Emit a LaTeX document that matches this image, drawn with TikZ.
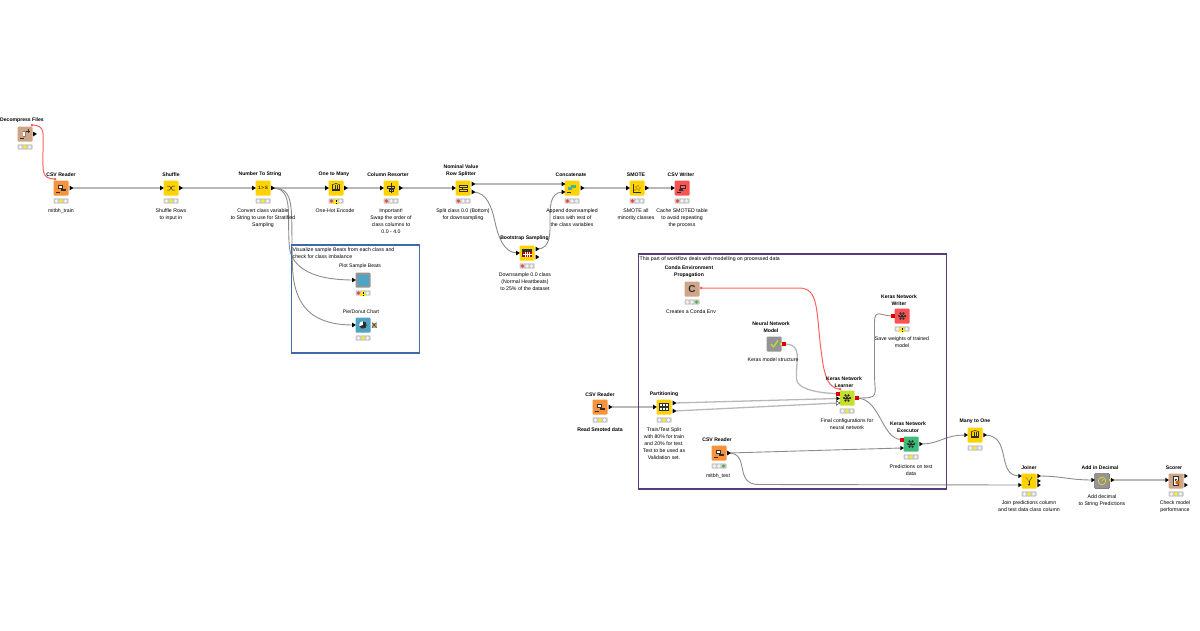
\documentclass[tikz,border=0pt]{standalone}
\usepackage{fontspec}
\setmainfont{Liberation Sans}
\usetikzlibrary{shapes.geometric,backgrounds}
\definecolor{cyellow}{HTML}{FFD200}
\definecolor{corange}{HTML}{F8933B}
\definecolor{ctan}{HTML}{CFA588}
\definecolor{cred}{HTML}{FB5353}
\definecolor{cblue}{HTML}{4FA3C4}
\definecolor{cgrey}{HTML}{949494}
\definecolor{clime}{HTML}{C4E02C}
\definecolor{cgreen}{HTML}{3DBB78}
\definecolor{linkc}{HTML}{B8B8B8}
\definecolor{flowc}{HTML}{FF5F5F}
\definecolor{icon}{HTML}{2E2E2E}
\definecolor{annoblue}{HTML}{3E6BA8}
\definecolor{annopurple}{HTML}{5C3A78}
\tikzset{
  kbox/.style={rectangle,rounded corners=1pt,minimum size=15pt,inner sep=0,draw=none},
  stbar/.style={rectangle,rounded corners=.8pt,fill=black!22,minimum width=15pt,minimum height=5.4pt,inner sep=0},
  pin/.style={isosceles triangle,isosceles triangle apex angle=65,fill=black,inner sep=0,minimum height=3.6pt,minimum width=4pt},
  pinw/.style={isosceles triangle,isosceles triangle apex angle=65,fill=white,draw=black,line width=.35pt,inner sep=0,minimum height=3.6pt,minimum width=4pt},
  pnn/.style={rectangle,fill=red!85!black,inner sep=0,minimum size=4pt},
  pvar/.style={circle,fill=flowc,inner sep=0,minimum size=3pt},
  plab/.style={anchor=south,inner sep=0,align=center,font=\fontsize{5.1}{7}\selectfont\bfseries},
  pnote/.style={anchor=north,inner sep=0,yshift=-1.5pt,align=center,font=\fontsize{5.2}{7}\selectfont,text=black},
  link/.style={draw=linkc,line width=1.3pt},
  linkd/.style={draw=black!45,line width=.9pt},
  varlink/.style={draw=flowc,line width=1pt},
  anno/.style={draw=#1,line width=1.9pt},
  annot/.style={anchor=north west,inner sep=0,yshift=-1.8pt,align=left,font=\fontsize{5.2}{7}\selectfont,text=black},
  ico/.style={fill=icon,draw=none},
  icol/.style={draw=icon,line width=.5pt}
}
% id x y colour icon status-colours
\newcommand{\knode}[8]{%
  \node[kbox,fill=#4] (#1) at (#2,#3) {};
  \begin{scope}[shift={(#2,#3)}]#5\end{scope}
  \node[stbar] (#1-st) at (#2,#3+13) {};
  \fill[#6] (#2-4.6,#3+13) circle (1.85pt);
  \fill[#7] (#2,#3+13) circle (1.85pt);
  \fill[#8] (#2+4.6,#3+13) circle (1.85pt);
}
\newcommand{\warn}[2]{\fill[yellow!95!orange] (#1-3.4,#2+3) -- (#1,#2-3) -- (#1+3.4,#2+3) -- cycle;
  \fill[black] (#1-.35,#2-1) rectangle (#1+.35,#2+1.2); \fill[black] (#1-.35,#2+1.6) rectangle (#1+.35,#2+2.4);}
\newcommand{\Ireader}{\fill[ico] (-3.5,-3.5) rectangle (2,1); \fill[white] (-2.5,-2.5) rectangle (1,0); \fill[ico] (0,.5) rectangle (5,3); \fill[ico] (-5.5,4) rectangle (-1,5);}
\newcommand{\Ishuffle}{\draw[icol] (-4,-2) -- (-1.5,-2) -- (1.5,2) -- (4,2); \draw[icol] (-4,2) -- (-1.5,2) -- (1.5,-2) -- (4,-2);}
\newcommand{\Inum}{\node[inner sep=0,font=\fontsize{4.6}{5}\selectfont\bfseries,text=icon] at (0,0) {1\,>\,S};}
\newcommand{\Imany}{\foreach \a in {-3.5,-1.2,1.2,3.5}{\draw[icol] (\a,-3) -- (\a,1);} \draw[icol] (-4,-3.2) -- (0,-4.5) -- (4,-3.2); \fill[ico] (-4,1) rectangle (4,3.2);}
\newcommand{\Iresort}{\draw[icol,line width=.7pt] (0,-5) -- (0,5); \draw[icol] (-3.5,-2) rectangle (3.5,0); \draw[icol] (-2,1) rectangle (2,3);}
\newcommand{\Isplit}{\draw[icol,line width=.7pt] (-4,-3) rectangle (4,-1); \draw[icol,line width=.7pt] (-4,1) rectangle (4,3); \draw[icol] (-1,-1) -- (-1,1);}
\newcommand{\Iboot}{\fill[ico] (-5,-4) rectangle (5,4); \fill[red!75!black] (-4.5,-1.5) rectangle (4.5,3.5); \foreach \a in {-2,0,2}{\draw[white,line width=.35pt] (\a,-1.5) -- (\a,3.5);} \draw[white,line width=.35pt] (-4.5,1) -- (4.5,1);}
\newcommand{\Iconcat}{\fill[cblue] (-4,-1) rectangle (0,2); \fill[cgreen] (-1,-3) rectangle (4,0); \fill[ico] (-5.5,4) rectangle (-1,5);}
\newcommand{\Ismote}{\draw[icol,line width=.6pt] (-4,-4) -- (-4,4) -- (4,4); \foreach \p in {(-2,2),(-1,-1),(0,1),(1,-2),(2,2),(3,0)}{\fill[icon] \p circle (.7pt);}}
\newcommand{\Iwriter}{\fill[ico] (-2,-3.5) rectangle (3.5,1); \fill[red!60] (-1,-2.5) rectangle (2.5,0); \fill[ico] (-3.5,.5) rectangle (1,3); \fill[ico] (-5.5,4) rectangle (-1,5);}
\newcommand{\Idecomp}{\fill[black!50] (-2.5,-3) rectangle (1,3); \fill[white] (-1.6,-2) rectangle (.1,2); \draw[icol] (3,-5) -- (3,-1); \draw[icol] (1,-3) -- (5,-3); \fill[ico] (-5.5,4) rectangle (-1,5);}
\newcommand{\Ineural}{\foreach \a in {0,60,...,300}{\fill[icon] (\a:3) circle (1.25pt); \draw[icol,line width=.45pt] (0,0) -- (\a:3);} \fill[icon] (0,0) circle (1.3pt);}
\newcommand{\Ipart}{\fill[ico] (-5,-4) rectangle (5,4); \foreach \a in {-3.2,0,3.2}{\fill[white] (\a-1,-2.8) rectangle (\a+1,-.8); \fill[white] (\a-1,.6) rectangle (\a+1,2.6);}}
\newcommand{\Ijoin}{\draw[icol,line width=.7pt,draw=orange] (-3,-4) -- (0,1); \draw[icol,line width=.7pt,draw=green!60!black] (3,-4) -- (0,1); \draw[icol,line width=.8pt] (0,0) -- (0,3.5); \fill[ico] (-1.2,3) -- (1.2,3) -- (0,5) -- cycle;}
\newcommand{\Iscore}{\fill[white,draw=icon,line width=.4pt] (-3,-4.5) rectangle (2.5,4.5); \fill[ico] (-1.5,-2.5) rectangle (1,-1.8); \fill[ico] (-1.5,-.8) rectangle (0,0); \fill[orange!80!black] (1.5,1.5) circle (2.2pt);}
\begin{document}
\begin{tikzpicture}[x=1pt,y=-1pt]
\useasboundingbox (0,0) rectangle (1200,630);
% annotation boxes
\draw[anno=annoblue] (291.5,245) rectangle (419.5,353);
\draw[anno=annopurple] (638.5,254) rectangle (946.5,489);
\node[annot] (t1) at (292.5,246) {Visualize sample Beats from each class and\\check for class imbalance};
\node[annot] (t2) at (639.5,255) {This part of workflow deals with modelling on processed data};
% nodes
\knode{decomp}{25}{134}{ctan}{\Idecomp}{black!5}{yellow}{black!5}
\knode{read}{61}{188}{corange}{\Ireader}{black!5}{yellow}{black!5}
\knode{shuf}{171}{188}{cyellow}{\Ishuffle}{black!5}{yellow}{black!5}
\knode{nts}{263}{188}{cyellow}{\Inum}{black!5}{yellow}{black!5}
\knode{otm}{336}{188}{cyellow}{\Imany}{red!75}{black!5}{black!5}
\knode{resort}{391}{188}{cyellow}{\Iresort}{red!75}{black!5}{black!5}
\knode{split}{463}{188}{cyellow}{\Isplit}{red!75}{black!5}{black!5}
\knode{conc}{572}{188}{cyellow}{\Iconcat}{red!75}{black!5}{black!5}
\knode{smote}{637}{188}{cyellow}{\Ismote}{red!75}{black!5}{black!5}
\knode{writer}{682}{188}{cred}{\Iwriter}{red!75}{black!5}{black!5}
\knode{boot}{527}{253}{cyellow}{\Iboot}{red!75}{black!5}{black!5}
\knode{plot}{363}{280}{cgrey}{\fill[cblue] (-5.5,-5.5) rectangle (5.5,5.5);}{red!75}{black!5}{black!5}
\knode{pie}{363}{325}{cblue}{\fill[white] (0,0) circle (3.8pt); \fill[icon] (0,0) -- (0,-3.8) arc (90:-160:3.8pt) -- cycle;}{black!5}{yellow}{black!5}
\knode{conda}{692}{289}{ctan}{\node[inner sep=0,font=\fontsize{10}{10}\selectfont\bfseries,text=icon] at (0,0) {C};}{black!5}{black!5}{green!60!black!70}
\knode{kwrite}{902}{316}{cred}{\Ineural}{black!5}{black!5}{black!5}
\node[kbox,fill=cgrey] (model) at (774,344) {};
\draw[draw=clime,line width=1.2pt] (771,344) -- (773.5,347) -- (778,340.5);
\knode{learn}{847}{398}{clime}{\Ineural}{black!5}{yellow}{black!5}
\knode{exec}{911}{444}{cgreen}{\Ineural}{black!5}{yellow}{black!5}
\knode{read2}{600}{407}{corange}{\Ireader}{black!5}{yellow}{black!5}
\knode{part}{664}{407}{cyellow}{\Ipart}{black!5}{yellow}{black!5}
\knode{read3}{719}{453}{corange}{\Ireader}{black!5}{black!5}{green!60!black!70}
\knode{mto}{975}{435}{cyellow}{\Imany}{black!5}{yellow}{black!5}
\knode{join}{1029}{481}{cyellow}{\Ijoin}{black!5}{yellow}{black!5}
\node[kbox,fill=cgrey,draw=black!60,line width=.5pt] (addd) at (1102,481) {};
\draw[draw=yellow!85!orange,line width=.6pt] (1102,481) circle (3.8pt);
\draw[draw=yellow!85!orange,line width=.5pt] (1102,481) -- (1103.5,479);
\knode{score}{1176}{481}{ctan}{\Iscore}{black!5}{yellow}{black!5}
% warnings and error mark
\warn{336}{201}
\warn{363}{293}
\warn{902}{329}
\fill[green!45!black!45] (372,322.5) rectangle (376.5,327.5);
\draw[draw=red!70!black,line width=.45pt] (372,322.5) -- (376.5,327.5) (372,327.5) -- (376.5,322.5);
% ports
\node[pvar] (decomp-v) at (32,125) {};
\node[pin] (decomp-o) at (34.5,134) {};
\node[pvar] (read-v) at (55,179) {};
\node[pin] (read-o) at (71,188) {};
\node[pin] (shuf-i) at (161.5,188) {};
\node[pin] (shuf-o) at (180.5,188) {};
\node[pin] (nts-i) at (253.5,188) {};
\node[pin] (nts-o) at (272.5,188) {};
\node[pin] (otm-i) at (326.5,188) {};
\node[pin] (otm-o) at (345.5,188) {};
\node[pin] (resort-i) at (381.5,188) {};
\node[pin] (resort-o) at (400.5,188) {};
\node[pin] (split-i) at (453.5,188) {};
\node[pin] (split-a) at (473,184) {};
\node[pin] (split-b) at (473,192) {};
\node[pin] (conc-a) at (563,184) {};
\node[pin] (conc-b) at (563,192) {};
\node[pin] (conc-o) at (582,188) {};
\node[pin] (smote-i) at (627.5,188) {};
\node[pin] (smote-o) at (646.5,188) {};
\node[pin] (writer-i) at (672.5,188) {};
\node[pin] (boot-i) at (517.5,253) {};
\node[pin] (boot-a) at (537,249) {};
\node[pin] (boot-b) at (537,257) {};
\node[pin] (plot-i) at (353.5,280) {};
\node[pin] (pie-i) at (353.5,325) {};
\node[pvar] (conda-v) at (701,288) {};
\node[pnn] (kwrite-i) at (892.5,316) {};
\node[pnn] (model-o) at (783.5,344) {};
\node[pvar,fill=yellow,minimum size=2.5pt] (model-y) at (781,344) {};
\node[pvar] (learn-v) at (840,389) {};
\node[pnn] (learn-m) at (837.5,393.5) {};
\node[pin] (learn-a) at (837.5,398.5) {};
\node[pinw] (learn-b) at (837.5,403) {};
\node[pnn] (learn-o) at (856.5,398) {};
\node[pnn] (exec-m) at (901.5,439.5) {};
\node[pin] (exec-i) at (901.5,448) {};
\node[pin] (exec-o) at (920.5,444) {};
\node[pin] (read2-o) at (610,407) {};
\node[pin] (part-i) at (654.5,407) {};
\node[pin] (part-a) at (674,403) {};
\node[pin] (part-b) at (674,411) {};
\node[pin] (read3-o) at (728.5,453) {};
\node[pin] (mto-i) at (965.5,435) {};
\node[pin] (mto-o) at (984.5,435) {};
\node[pin] (join-a) at (1019.5,476) {};
\node[pin] (join-b) at (1019.5,485) {};
\node[pin] (join-c) at (1038.5,476) {};
\node[pin] (join-d) at (1038.5,481) {};
\node[pin] (join-e) at (1038.5,485) {};
\node[pin] (addd-i) at (1092.5,480) {};
\node[pvar,fill=yellow!90!orange,minimum size=2.6pt] (addd-o) at (1110,480) {};
\node[pin] (addd-p) at (1112,480) {};
\node[pin] (score-i) at (1166.5,480) {};
\node[pin] (score-a) at (1185.5,476) {};
\node[pin] (score-b) at (1185.5,485) {};
% connectors
\begin{scope}[on background layer]
\draw[varlink] (decomp-v.center) .. controls +(14,0) and +(0,-18) .. ++(11,27) .. controls +(0,18) and +(-14,0) .. (read-v.center);
\draw[link] (read-o.center) -- (shuf-i.center);
\draw[link] (shuf-o.center) -- (nts-i.center);
\draw[link] (nts-o.center) -- (otm-i.center);
\draw[link] (otm-o.center) -- (resort-i.center);
\draw[link] (resort-o.center) -- (split-i.center);
\draw[linkd] (nts-o.center) .. controls +(22,0) and +(-3,-30) .. ++(17,60) .. controls +(2,14) and +(-50,0) .. (plot-i.center);
\draw[linkd] (nts-o.center) .. controls +(24,0) and +(-2,-60) .. ++(20,80) .. controls +(2,40) and +(-40,0) .. (pie-i.center);
\draw[link] (split-a.center) -- (conc-a.center);
\draw[linkd] (split-b.center) .. controls +(14,0) and +(-3,-14) .. ++(22,30) .. controls +(3,14) and +(-14,0) .. (boot-i.center);
\draw[linkd] (boot-a.center) .. controls +(14,0) and +(0,12) .. ++(13,-28) .. controls +(0,-12) and +(-14,0) .. (conc-b.center);
\draw[link] (conc-o.center) -- (smote-i.center);
\draw[link] (smote-o.center) -- (writer-i.center);
\draw[varlink] (conda-v.center) -- ++(98,0) .. controls +(20,0) and +(-5,-40) .. ++(22,62) .. controls +(2,12) and +(-16,0) .. (learn-v.center);
\draw[link] (model-o.center) .. controls +(20,0) and +(-1,-20) .. ++(13,35) .. controls +(0,10) and +(-18,0) .. (learn-m.center);
\draw[link] (read2-o.center) -- (part-i.center);
\draw[link] (part-a.center) -- (learn-a.center);
\draw[link] (part-b.center) -- (learn-b.center);
\draw[linkd] (learn-o.center) .. controls +(24,0) and +(0,24) .. ++(18,-25) -- ++(0,-50) .. controls +(0,-15) and +(-12,0) .. (kwrite-i.center);
\draw[linkd] (learn-o.center) .. controls +(24,0) and +(-20,0) .. (exec-m.center);
\draw[linkd] (read3-o.center) -- (exec-i.center);
\draw[linkd] (read3-o.center) .. controls +(22,0) and +(-25,0) .. ++(30,31.5) -- (join-b.center);
\draw[linkd] (exec-o.center) .. controls +(20,0) and +(-22,0) .. (mto-i.center);
\draw[linkd] (mto-o.center) .. controls +(28,0) and +(-24,0) .. (join-a.center);
\draw[linkd] (join-c.center) .. controls +(24,0) and +(-24,0) .. (addd-i.center);
\draw[link] (addd-o.center) -- (score-i.center);
\end{scope}
% labels
\node[plab] (l1) at (22,123) {Decompress Files};
\node[plab] (l2) at (61,177) {CSV Reader};
\node[pnote] (n2) at (61,207) {mitbh\_train};
\node[plab] (l3) at (171,177) {Shuffle};
\node[pnote] (n3) at (171,207) {Shuffle Rows\\to input in};
\node[plab] (l4) at (260,177) {Number To String};
\node[pnote] (n4) at (263,207) {Convert class variable\\to String to use for Stratified\\Sampling};
\node[plab] (l5) at (334,177) {One to Many};
\node[pnote] (n5) at (335,207) {One-Hot Encode};
\node[plab] (l6) at (388,177) {Column Resorter};
\node[pnote] (n6) at (391,207) {Important!\\Swap the order of\\class  columns to\\0.0 - 4.0};
\node[plab] (l7) at (461,177) {Nominal Value\\Row Splitter};
\node[pnote] (n7) at (463,207) {Split class 0.0 (Bottom)\\for downsampling};
\node[plab] (l8) at (571,177) {Concatenate};
\node[pnote] (n8) at (572,207) {Append downsampled\\class with rest of\\the class variables};
\node[plab] (l9) at (636,177) {SMOTE};
\node[pnote] (n9) at (636,207) {SMOTE all\\minority classes};
\node[plab] (l10) at (681,177) {CSV Writer};
\node[pnote] (n10) at (682,207) {Cache SMOTED table\\to avoid repeating\\the process};
\node[plab] (l11) at (524.5,241) {Bootstrap Sampling};
\node[pnote] (n11) at (525,271) {Downsample 0.0 class\\(Normal Heartbeats)\\to 25\% of the dataset};
\node[plab,font=\fontsize{5.1}{7}\selectfont] (l12) at (360,269) {Plot Sample Beats};
\node[plab,font=\fontsize{5.1}{7}\selectfont] (l13) at (361,314) {Pie/Donut Chart};
\node[plab] (l14) at (689,278) {Conda Environment\\Propagation};
\node[pnote] (n14) at (691,308) {Creates a Conda Env};
\node[plab] (l15) at (899,306) {Keras Network\\Writer};
\node[pnote] (n15) at (902,335) {Save weights of trained\\model};
\node[plab] (l16) at (771,333) {Neural Network\\Model};
\node[pnote] (n16) at (773,356) {Keras model structure};
\node[plab] (l17) at (844,388) {Keras Network\\Learner};
\node[pnote] (n17) at (847,417) {Final configurations for\\neural network};
\node[plab] (l18) at (908,433) {Keras Network\\Executor};
\node[pnote] (n18) at (911,463) {Predictions on test\\data};
\node[plab] (l19) at (600,397) {CSV Reader};
\node[pnote,font=\fontsize{5.2}{7}\selectfont\bfseries] (n19) at (600,426) {Read Smoted data};
\node[plab] (l20) at (664,397) {Partitioning};
\node[pnote] (n20) at (664,426) {Train/Test Split\\with 80\% for train\\and 20\% for test.\\Test to be used as\\Validation set.};
\node[plab] (l21) at (717,442) {CSV Reader};
\node[pnote] (n21) at (718,472) {mitbh\_test};
\node[plab] (l22) at (975,424) {Many to One};
\node[plab] (l23) at (1029,470) {Joiner};
\node[pnote] (n23) at (1029,499) {Join predictions column\\and test data class column};
\node[plab] (l24) at (1100,470) {Add in Decimal};
\node[pnote] (n24) at (1102,493) {Add decimal\\to String Predictions};
\node[plab] (l25) at (1174,470) {Scorer};
\node[pnote] (n25) at (1175,499) {Check model\\performance};
\end{tikzpicture}
\end{document}
